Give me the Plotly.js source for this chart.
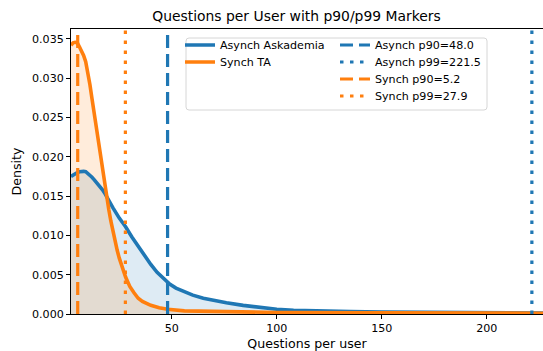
<!DOCTYPE html>
<html>
<head>
<meta charset="utf-8">
<script src="https://cdn.plot.ly/plotly-3.0.1.min.js"></script>
<style>html,body{margin:0;padding:0;background:#fff}#chart{width:543px;height:351px}</style>
</head>
<body>
<div id="chart"></div>
<script>
// ---- data ----
const asynchX = [2, 3, 4, 5, 6, 7, 8, 9, 10, 11, 12, 13, 14, 15, 16, 17, 18, 19, 20, 22, 25, 28, 31, 34, 37, 40, 43, 46, 49, 52, 56, 60, 65, 70, 76, 84, 92, 100, 108, 120, 135, 150, 165, 180, 200, 227];
const asynchY = [0.0175, 0.0177, 0.0179, 0.0180, 0.0181, 0.01815, 0.01815, 0.0181, 0.0179, 0.0177, 0.0174, 0.0171, 0.0168, 0.0165, 0.0162, 0.0158, 0.0154, 0.0149, 0.0144, 0.0135, 0.0122, 0.0111, 0.0098, 0.0086, 0.0074, 0.0063, 0.0053, 0.0045, 0.0038, 0.0033, 0.0028, 0.0024, 0.0020, 0.0017, 0.00144, 0.0011, 0.0008, 0.0006, 0.00048, 0.00038, 0.0003, 0.00026, 0.00022, 0.00018, 0.00015, 0.00012];
const synchX = [2, 3, 4, 5, 6, 7, 8, 9, 10, 11, 12, 13, 14, 15, 16, 17, 18, 19, 20, 21, 22, 23, 24, 25, 26, 27, 28, 29, 30, 32, 34, 36, 38, 40, 44, 48, 56, 70, 100, 150, 200, 227];
const synchY = [0.0342, 0.0345, 0.03457, 0.0345, 0.0340, 0.0335, 0.0329, 0.0321, 0.0308, 0.0292, 0.0274, 0.0256, 0.0237, 0.0218, 0.0200, 0.0183, 0.0166, 0.0149, 0.0133, 0.0118, 0.0104, 0.0092, 0.0081, 0.0071, 0.0062, 0.0054, 0.0047, 0.0041, 0.0035, 0.0027, 0.0020, 0.0016, 0.0013, 0.0011, 0.0008, 0.0006, 0.0004, 0.0003, 0.0002, 0.00015, 0.0001, 0.0001];
const seriesNames = ["Asynch Askademia", "Synch TA"];
const markerNames = ["Asynch p90=48.0", "Asynch p99=221.5", "Synch p90=5.2", "Synch p99=27.9"];
const markerValues = [48.0, 221.5, 5.2, 27.9];
const xTicks = [50, 100, 150, 200];
const yTicks = [0, 0.005, 0.010, 0.015, 0.020, 0.025, 0.030, 0.035];

const BLUE = "#1f77b4", ORANGE = "#ff7f0e";
const markerColors = [BLUE, BLUE, ORANGE, ORANGE];
const markerDash = ["13px,6px", "3.5px,6.5px", "13px,6px", "3.5px,6.5px"];
const YMAX = 0.03626;

// plot area in pixels: x 71..543, y 29..314
const L = 71, W = 472, H = 285;
const px = p => (p - L) / W, py = p => (314 - p) / H;
const rowCenters = [47.5, 64.5, 81.5, 98.5];

const traces = [];
traces.push({x: asynchX, y: asynchY, type: "scatter", mode: "lines", fill: "tozeroy",
  fillcolor: "rgba(31,119,180,0.15)", line: {width: 0}, showlegend: false, hoverinfo: "skip"});
traces.push({x: synchX, y: synchY, type: "scatter", mode: "lines", fill: "tozeroy",
  fillcolor: "rgba(255,127,14,0.15)", line: {width: 0}, showlegend: false, hoverinfo: "skip"});
traces.push({x: asynchX, y: asynchY, type: "scatter", mode: "lines", name: seriesNames[0],
  line: {color: BLUE, width: 3.6}, legend: "legend"});
traces.push({x: synchX, y: synchY, type: "scatter", mode: "lines", name: seriesNames[1],
  line: {color: ORANGE, width: 3.6}, legend: "legend2"});
markerValues.forEach((v, i) => {
  traces.push({x: [v, v], y: [0, YMAX], type: "scatter", mode: "lines", name: markerNames[i],
    line: {color: markerColors[i], width: 3.2, dash: markerDash[i]}, legend: "legend" + (i + 3)});
});

const legendBase = (xPix, rowIdx) => ({x: px(xPix), y: py(rowCenters[rowIdx] - 17), xanchor: "left", yanchor: "top",
  bgcolor: "rgba(0,0,0,0)", borderwidth: 0, font: {size: 11.1, color: "#000"}, itemwidth: 30});

// rounded legend frame path (paper coords)
const fx0 = px(186), fx1 = px(487), fy0 = py(110), fy1 = py(38);
const rx = 3 / W, ry = 3 / H;
const framePath = `M${fx0 + rx},${fy0} L${fx1 - rx},${fy0} Q${fx1},${fy0} ${fx1},${fy0 + ry} L${fx1},${fy1 - ry} Q${fx1},${fy1} ${fx1 - rx},${fy1} L${fx0 + rx},${fy1} Q${fx0},${fy1} ${fx0},${fy1 - ry} L${fx0},${fy0 + ry} Q${fx0},${fy0} ${fx0 + rx},${fy0} Z`;

const layout = {
  width: 543, height: 351,
  margin: {l: 71, r: 0, t: 29, b: 37, pad: 0},
  paper_bgcolor: "#fff", plot_bgcolor: "#fff",
  font: {family: "DejaVu Sans", size: 11.1, color: "#000"},
  title: {text: "Questions per User with p90/p99 Markers", font: {size: 13.9, color: "#000"},
    xref: "container", x: 296.5 / 543, xanchor: "center", yref: "container", y: 1 - 16 / 351, yanchor: "middle"},
  xaxis: {range: [2, 226.8], tickvals: xTicks, ticktext: xTicks.map(String), ticks: "outside", ticklen: 4, tickwidth: 1,
    tickcolor: "#000", showline: true, linecolor: "#000", linewidth: 1, mirror: true, showgrid: false, zeroline: false,
    title: {text: "Questions per user", standoff: 6, font: {size: 12.6}}, automargin: false},
  yaxis: {range: [0, YMAX], tickvals: yTicks, tickformat: ".3f", ticks: "outside", ticklen: 4, tickwidth: 1,
    tickcolor: "#000", showline: true, linecolor: "#000", linewidth: 1, showgrid: false, zeroline: false,
    title: {text: "Density", standoff: 7, font: {size: 12.6}}, automargin: false},
  showlegend: true,
  legend: legendBase(180, 0),
  legend2: legendBase(180, 1),
  legend3: legendBase(335, 0),
  legend4: legendBase(335, 1),
  legend5: legendBase(335, 2),
  legend6: legendBase(335, 3),
  shapes: [{type: "path", xref: "paper", yref: "paper", path: framePath,
    line: {color: "#d6d6d6", width: 1}, fillcolor: "rgba(255,255,255,0.8)", layer: "above"}]
};

Plotly.newPlot("chart", traces, layout, {staticPlot: true, displayModeBar: false});
</script>
</body>
</html>
